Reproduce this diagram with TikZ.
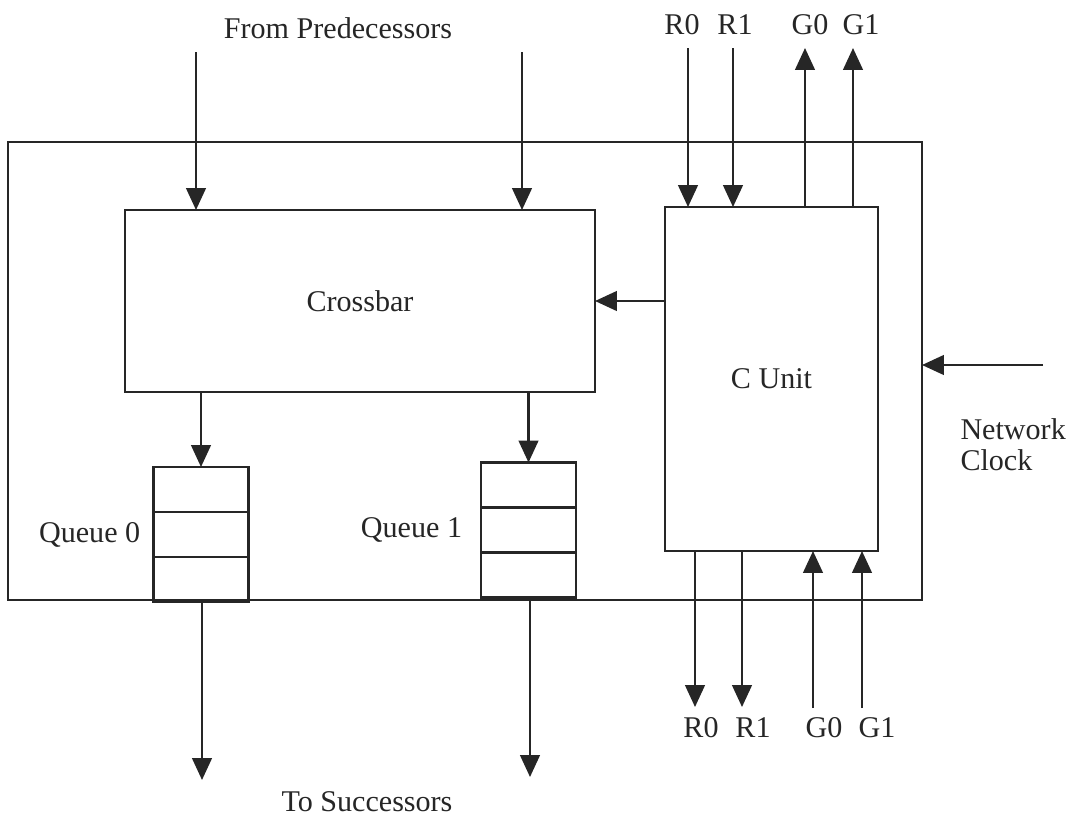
\documentclass[tikz,border=0pt]{standalone}
\usepackage{fontspec}
\setmainfont{Liberation Serif}
\usetikzlibrary{arrows.meta,positioning}
\begin{document}
\begin{tikzpicture}[x=0.0125cm,y=-0.0125cm,line width=0.8pt,color=black!85,
  font=\fontsize{10.7}{11}\selectfont,
  sig/.style={-{Triangle[length=7.8pt,width=7pt]}},
  blockbox/.style={draw,inner sep=0pt,outer sep=0pt},
  cellbox/.style={draw,inner sep=0pt,outer sep=0pt,minimum width=95*\pxl,minimum height=45*\pxl}]
\def\pxl{0.0125cm}   % one pixel of the sheet
\useasboundingbox (0,0) rectangle (1068,822);
% the switch frame, the crossbar and the control unit
\node[blockbox,minimum width=914*\pxl,minimum height=458*\pxl] (frame) at (465,371) {};
\node[blockbox,minimum width=470*\pxl,minimum height=182*\pxl] (xbar) at (360,301) {Crossbar};
\node[blockbox,minimum width=213*\pxl,minimum height=344*\pxl] (cunit) at (771.5,379) {C Unit};
% the two queues, three cells each
\node[cellbox] (q0a) at (201,489.5) {};
\node[cellbox,below=0pt of q0a] (q0b) {};
\node[cellbox,below=0pt of q0b] (q0c) {};
\node[left=1pt of q0b] (q0lab) {Queue 0};
\node[cellbox] (q1a) at (528.5,485) {};
\node[cellbox,below=0pt of q1a] (q1b) {};
\node[cellbox,below=0pt of q1b] (q1c) {};
\node[left=3pt of q1b] (q1lab) {Queue 1};
% inputs from the predecessors
\node (predlab) at (338,28) {From Predecessors};
\coordinate (pred0) at (196,52);
\coordinate (pred1) at (522,52);
\draw[sig] (pred0) -- (pred0 |- xbar.north);
\draw[sig] (pred1) -- (pred1 |- xbar.north);
% crossbar into the queues, queues out to the successors
\draw[sig] (q0a.north |- xbar.south) -- (q0a.north);
\draw[sig] (q1a.north |- xbar.south) -- (q1a.north);
\node (succlab) at (367,802) {To Successors};
\coordinate (succ0) at (202,780);
\coordinate (succ1) at (530,777);
\draw[sig] (succ0 |- q0c.south) -- (succ0);
\draw[sig] (succ1 |- q1c.south) -- (succ1);
% control unit sets the crossbar
\draw[sig] (cunit.west |- xbar.east) -- (xbar.east);
% requests and grants, upper side
\foreach \lbl/\xa/\xl in {R0/688/682,R1/733/735}{
  \node (top\lbl) at (\xl,25) {\lbl};
  \coordinate (topin\lbl) at (\xa,48);
  \draw[sig] (topin\lbl) -- (topin\lbl |- cunit.north);
}
\foreach \lbl/\xa/\xl in {G0/805/810,G1/853/861}{
  \node (top\lbl) at (\xl,25) {\lbl};
  \coordinate (topout\lbl) at (\xa,48);
  \draw[sig] (topout\lbl |- cunit.north) -- (topout\lbl);
}
% requests and grants, lower side
\foreach \lbl/\xa/\xl in {R0/695/701,R1/742/753}{
  \node (bot\lbl) at (\xl,728) {\lbl};
  \coordinate (botout\lbl) at (\xa,707);
  \draw[sig] (botout\lbl |- cunit.south) -- (botout\lbl);
}
\foreach \lbl/\xa/\xl in {G0/813/824,G1/862/877}{
  \node (bot\lbl) at (\xl,728) {\lbl};
  \coordinate (botin\lbl) at (\xa,708);
  \draw[sig] (botin\lbl) -- (botin\lbl |- cunit.south);
}
% the clock
\coordinate (clk) at (1043,365);
\draw[sig] (clk) -- (clk -| frame.east);
\node[anchor=west,align=left] (clklab) at (950,445) {Network\\Clock};
\end{tikzpicture}
\end{document}
